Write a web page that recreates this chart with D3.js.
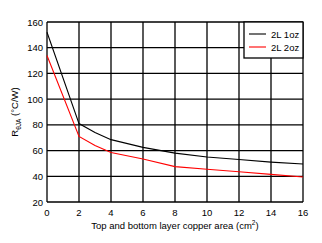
<!DOCTYPE html>
<html>
<head>
<meta charset="utf-8">
<script src="https://cdn.jsdelivr.net/npm/d3@7"></script>
<style>
  body { margin: 0; background: #fff; }
  text { font-family: Arial, "Liberation Sans", sans-serif; }
</style>
</head>
<body>
<svg id="chart" width="322" height="243"></svg>
<script>
// copper area (cm2)
const area = [0, 2, 3, 4, 6, 8, 10, 12, 14, 16];
// thermal resistance (°C/W)
const oz1 = [152, 81, 74, 68.5, 62.5, 58, 55, 53, 51, 49.5];
const oz2 = [134, 71, 64, 58.5, 53.5, 47.5, 45.5, 43.5, 41.5, 39.5];
const xTicks = [0, 2, 4, 6, 8, 10, 12, 14, 16];
const yTicks = [20, 40, 60, 80, 100, 120, 140, 160];
const seriesNames = ["2L 1oz", "2L 2oz"];
const seriesColors = ["#000000", "#ff0000"];

const svg = d3.select("#chart");
const margin = {left: 47, top: 22, right: 19, bottom: 41};
const w = 322 - margin.left - margin.right;
const h = 243 - margin.top - margin.bottom;

const x = d3.scaleLinear().domain([0, 16]).range([margin.left, margin.left + w]);
const y = d3.scaleLinear().domain([20, 160]).range([margin.top + h, margin.top]);

// grid
svg.append("g").selectAll("line").data(xTicks).join("line")
  .attr("x1", d => x(d)).attr("x2", d => x(d))
  .attr("y1", y(20)).attr("y2", y(160))
  .attr("stroke", "#000").attr("stroke-width", 1.3);
svg.append("g").selectAll("line").data(yTicks).join("line")
  .attr("x1", x(0)).attr("x2", x(16))
  .attr("y1", d => y(d)).attr("y2", d => y(d))
  .attr("stroke", "#000").attr("stroke-width", 1.3);

// tick labels
svg.append("g").selectAll("text").data(yTicks).join("text")
  .attr("x", x(0) - 4).attr("y", d => y(d) + 3.5)
  .attr("text-anchor", "end").attr("font-size", 9.5).attr("fill", "#000")
  .text(d => d);
svg.append("g").selectAll("text").data(xTicks).join("text")
  .attr("x", d => x(d)).attr("y", y(20) + 14)
  .attr("text-anchor", "middle").attr("font-size", 9.5).attr("fill", "#000")
  .text(d => d);

// axis titles
const xt = svg.append("text")
  .attr("x", x(8)).attr("y", 229)
  .attr("text-anchor", "middle").attr("font-size", 9.5).attr("fill", "#000");
xt.append("tspan").text("Top and bottom layer copper area (cm");
xt.append("tspan").attr("font-size", 6.5).attr("dy", -4).text("2");
xt.append("tspan").attr("dy", 4).text(")");

const yt = svg.append("text")
  .attr("transform", `translate(18,${y(90)}) rotate(-90)`)
  .attr("text-anchor", "middle").attr("font-size", 9.5).attr("fill", "#000");
yt.append("tspan").text("R");
yt.append("tspan").attr("font-size", 6.5).attr("dy", 2.5).text("θJA");
yt.append("tspan").attr("dy", -2.5).text(" (°C/W)");

// lines
const line = d3.line().x((d, i) => x(area[i])).y(d => y(d));
[oz1, oz2].forEach((s, k) => {
  svg.append("path").datum(s)
    .attr("d", line)
    .attr("fill", "none")
    .attr("stroke", seriesColors[k])
    .attr("stroke-width", 1.1);
});

// legend
const lg = svg.append("g");
lg.append("rect")
  .attr("x", 244).attr("y", y(160)).attr("width", x(16) - 244).attr("height", 36)
  .attr("fill", "#fff").attr("stroke", "#000").attr("stroke-width", 1.3);
seriesNames.forEach((n, k) => {
  const ly = 34 + k * 13;
  lg.append("line").attr("x1", 249).attr("x2", 266).attr("y1", ly).attr("y2", ly)
    .attr("stroke", seriesColors[k]).attr("stroke-width", 1.1);
  lg.append("text").attr("x", 271).attr("y", ly + 3.5)
    .attr("font-size", 9.5).attr("fill", "#000").text(n);
});
</script>
</body>
</html>
